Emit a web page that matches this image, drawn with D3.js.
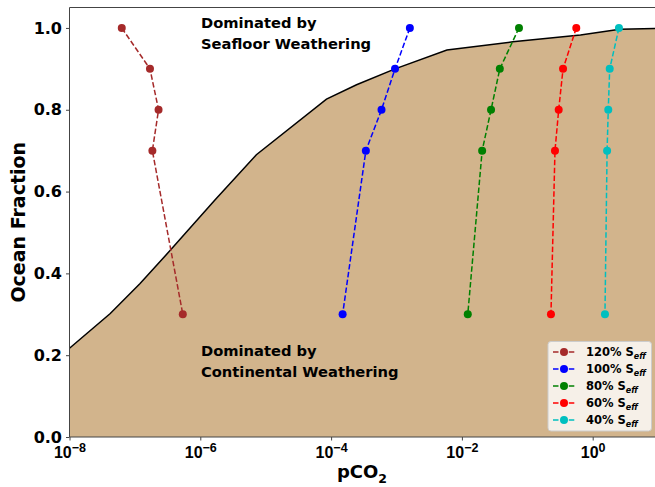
<!DOCTYPE html>
<html lang="en">
<head>
  <meta charset="UTF-8" />
  <title>Ocean Fraction vs pCO2</title>
  <script src="https://d3js.org/d3.v7.min.js"></script>
  <style>
    body { margin: 0; background: #fff; }
    svg { font-family: "DejaVu Sans", sans-serif; font-weight: bold; }
    .spine { stroke: #444; stroke-width: 1; fill: none; }
  </style>
</head>
<body>
  <svg id="chart" width="655" height="487"></svg>

  <script>
    // data
    const oceanFraction = [1.0, 0.9, 0.8, 0.7, 0.3];

    const series = [
      { label: "120%", color: "#a52a2a", pco2: [6.3e-8, 1.7e-7, 2.3e-7, 1.85e-7, 5.4e-7] },
      { label: "100%", color: "#0000ff", pco2: [1.6e-3, 9.5e-4, 5.9e-4, 3.4e-4, 1.5e-4] },
      { label: "80%", color: "#008000", pco2: [0.0746, 0.038, 0.0279, 0.0204, 0.0123] },
      { label: "60%", color: "#ff0000", pco2: [0.561, 0.352, 0.302, 0.265, 0.230] },
      { label: "40%", color: "#00bfbf", pco2: [2.52, 1.82, 1.73, 1.66, 1.54] }
    ];

    // boundary between the two weathering regimes
    const boundaryX = [1e-8, 4.2e-8, 1.2e-7, 3.5e-7, 1.66e-6, 7.2e-6, 8.5e-5, 2.45e-4, 9.5e-4, 5.9e-3, 0.060, 0.65, 2.6, 10];
    const boundaryY = [0.217, 0.302, 0.375, 0.457, 0.579, 0.690, 0.826, 0.861, 0.900, 0.946, 0.966, 0.983, 0.997, 0.999];

    const xTicks = [-8, -6, -4, -2, 0];
    const yTicks = [0.0, 0.2, 0.4, 0.6, 0.8, 1.0];

    const svg = d3.select("#chart");
    const plotLeft = 69.5, plotTop = 7.5, plotBottom = 437;
    const decade = 65.4;

    const x = d3.scaleLog().domain([1e-8, 1e1]).range([plotLeft, plotLeft + 9 * decade]);
    const y = d3.scaleLinear().domain([0, 1.05]).range([plotBottom, plotTop]);

    // shaded region under the boundary
    const boundary = boundaryX.map((v, i) => [v, boundaryY[i]]);
    svg.append("path")
      .datum(boundary)
      .attr("fill", "#d2b48c")
      .attr("d", d3.area().x(d => x(d[0])).y0(y(0)).y1(d => y(d[1])));
    svg.append("path")
      .datum(boundary)
      .attr("fill", "none")
      .attr("stroke", "#000")
      .attr("stroke-width", 1.5)
      .attr("d", d3.line().x(d => x(d[0])).y(d => y(d[1])));

    // series
    series.forEach(s => {
      const pts = s.pco2.map((v, i) => [v, oceanFraction[i]]);
      svg.append("path")
        .datum(pts)
        .attr("fill", "none")
        .attr("stroke", s.color)
        .attr("stroke-width", 1.5)
        .attr("stroke-dasharray", "5.5,2.4")
        .attr("d", d3.line().x(d => x(d[0])).y(d => y(d[1])));
      svg.append("g")
        .selectAll("circle")
        .data(pts)
        .join("circle")
        .attr("cx", d => x(d[0]))
        .attr("cy", d => y(d[1]))
        .attr("r", 4)
        .attr("fill", s.color);
    });

    // annotations
    const ann = svg.append("g").style("font-size", "14.7px").attr("fill", "#000");
    ann.append("text").attr("x", 201).attr("y", 28).text("Dominated by");
    ann.append("text").attr("x", 201).attr("y", 49).text("Seafloor Weathering");
    ann.append("text").attr("x", 201).attr("y", 356).text("Dominated by");
    ann.append("text").attr("x", 201).attr("y", 377).text("Continental Weathering");

    // spines
    svg.append("line").attr("class", "spine").attr("x1", plotLeft).attr("x2", 655).attr("y1", plotTop).attr("y2", plotTop);
    svg.append("line").attr("class", "spine").attr("x1", plotLeft).attr("x2", 655).attr("y1", plotBottom).attr("y2", plotBottom);
    svg.append("line").attr("class", "spine").attr("x1", plotLeft).attr("x2", plotLeft).attr("y1", plotTop).attr("y2", plotBottom);

    // y axis
    const yAxis = svg.append("g")
      .attr("transform", `translate(${plotLeft},0)`)
      .call(d3.axisLeft(y).tickValues(yTicks).tickFormat(d3.format(".1f")).tickSize(3.5).tickPadding(4));
    yAxis.select(".domain").remove();
    yAxis.selectAll(".tick line").attr("stroke", "#444");
    yAxis.selectAll("text").style("font-size", "16px").style("font-family", "DejaVu Sans").style("font-weight", "bold").attr("fill", "#000");

    // x axis with power-of-ten labels
    const xAxis = svg.append("g")
      .attr("transform", `translate(0,${plotBottom})`)
      .call(d3.axisBottom(x).tickValues(xTicks.map(e => Math.pow(10, e))).tickFormat("").tickSize(3.5));
    xAxis.select(".domain").remove();
    xAxis.selectAll(".tick line").attr("stroke", "#444");
    xAxis.selectAll(".tick").each(function (d, i) {
      const t = d3.select(this).append("text")
        .attr("y", 21)
        .attr("text-anchor", "middle")
        .attr("fill", "#000")
        .style("font-size", "16px");
      t.append("tspan").text("10");
      t.append("tspan").attr("dy", -6.5).style("font-size", "12.5px")
        .text(xTicks[i] < 0 ? "\u2212" + Math.abs(xTicks[i]) : String(xTicks[i]));
    });

    // axis labels
    const xl = svg.append("text")
      .attr("x", 362).attr("y", 478)
      .attr("text-anchor", "middle")
      .style("font-size", "18px");
    xl.append("tspan").text("pCO");
    xl.append("tspan").attr("dy", 5).style("font-size", "12.5px").text("2");

    svg.append("text")
      .attr("transform", `translate(25,${(plotTop + plotBottom) / 2}) rotate(-90)`)
      .attr("text-anchor", "middle")
      .style("font-size", "19px")
      .text("Ocean Fraction");

    // legend
    const lg = svg.append("g").attr("transform", "translate(548,341.5)");
    lg.append("rect")
      .attr("width", 103.5).attr("height", 89.5)
      .attr("rx", 3)
      .attr("fill", "#fff").attr("fill-opacity", 0.8)
      .attr("stroke", "#ccc").attr("stroke-width", 1);
    series.forEach((s, i) => {
      const row = lg.append("g").attr("transform", `translate(0,${10.5 + i * 17})`);
      row.append("line")
        .attr("x1", 5).attr("x2", 27)
        .attr("stroke", s.color).attr("stroke-width", 1.5)
        .attr("stroke-dasharray", "5.5,2.4");
      row.append("circle").attr("cx", 16).attr("r", 4).attr("fill", s.color);
      const t = row.append("text").attr("x", 38).attr("y", 4).style("font-size", "11.5px");
      t.append("tspan").text(s.label + " S");
      t.append("tspan").attr("dy", 2.5).style("font-size", "8px").style("font-style", "italic").text("eff");
    });
  </script>
</body>
</html>
